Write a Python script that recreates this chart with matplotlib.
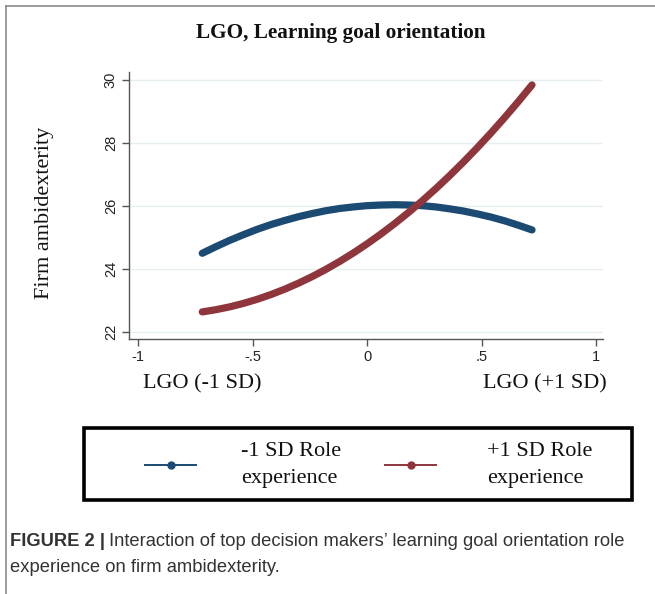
import matplotlib.pyplot as plt
from matplotlib.patches import Rectangle
from matplotlib.lines import Line2D

# values
lgo = [-0.72, -0.66, -0.6, -0.54, -0.48, -0.42, -0.36, -0.3, -0.24, -0.18, -0.12, -0.06, 0,
       0.06, 0.12, 0.18, 0.24, 0.3, 0.36, 0.42, 0.48, 0.54, 0.6, 0.66, 0.72]
low_role = [24.50, 24.71, 24.91, 25.09, 25.26, 25.41, 25.54, 25.66, 25.76, 25.85, 25.92, 25.97, 26.01,
            26.03, 26.04, 26.03, 26.01, 25.97, 25.91, 25.84, 25.75, 25.65, 25.53, 25.39, 25.24]
high_role = [22.64, 22.71, 22.80, 22.91, 23.04, 23.19, 23.36, 23.55, 23.76, 23.99, 24.24, 24.51, 24.80,
             25.11, 25.44, 25.79, 26.16, 26.55, 26.96, 27.39, 27.84, 28.31, 28.80, 29.31, 29.84]
series_names = ['-1 SD Role\nexperience', '+1 SD Role\nexperience']
xticks = [-1, -0.5, 0, 0.5, 1]
xtick_labels = ['-1', '-.5', '0', '.5', '1']
yticks = [22, 24, 26, 28, 30]

blue = '#1b4a73'
red = '#8f353c'
serif = ['Liberation Serif', 'DejaVu Serif']
sans = ['Liberation Sans', 'DejaVu Sans']

W, H = 655, 594
fig = plt.figure(figsize=(W / 100, H / 100), dpi=100)
fig.patch.set_facecolor('white')

ax = fig.add_axes([129 / W, 1 - 339 / H, (603 - 129) / W, (339 - 72) / H])
ax.plot(lgo, low_role, color=blue, lw=5.2, solid_capstyle='round', solid_joinstyle='round', zorder=3)
ax.plot(lgo, high_role, color=red, lw=5.2, solid_capstyle='round', solid_joinstyle='round', zorder=3)

ax.set_xlim(-1.04, 1.03)
ax.set_ylim(21.78, 30.25)
ax.set_xticks(xticks)
ax.set_xticklabels(xtick_labels, family=sans, fontsize=10.5)
ax.set_yticks(yticks)
ax.set_yticklabels([str(v) for v in yticks], family=sans, fontsize=10.5,
                   rotation=90, va='center')
ax.grid(axis='y', color='#e6f0f1', lw=1)
ax.set_axisbelow(True)
for s in ['top', 'right']:
    ax.spines[s].set_visible(False)
for s in ['left', 'bottom']:
    ax.spines[s].set_color('#555555')
    ax.spines[s].set_linewidth(1)
ax.tick_params(color='#555555', length=5, width=1, pad=3, labelcolor='#222222')

fig.text(341 / W, 1 - 33 / H, 'LGO, Learning goal orientation', ha='center', va='center',
         family=serif, fontsize=15.3, fontweight='bold', color='#111111')
fig.text(45 / W, 1 - 213 / H, 'Firm ambidexterity', ha='center', va='center',
         rotation=90, family=serif, fontsize=16, color='#111111')
fig.text(202 / W, 1 - 384 / H, 'LGO (-1 SD)', ha='center', va='center',
         family=serif, fontsize=16, color='#111111')
fig.text(545 / W, 1 - 384 / H, 'LGO (+1 SD)', ha='center', va='center',
         family=serif, fontsize=16, color='#111111')

# legend box
fig.add_artist(Rectangle((84 / W, 1 - 500 / H), (632 - 84) / W, (500 - 428) / H,
                         transform=fig.transFigure, fill=False, edgecolor='black', lw=2.6))
for color, name, x0, tx in [(blue, series_names[0], 145, 241), (red, series_names[1], 385, 487)]:
    fig.add_artist(Line2D([x0 / W, (x0 + 51) / W], [1 - 465 / H, 1 - 465 / H],
                          transform=fig.transFigure, color=color, lw=1.4))
    fig.add_artist(Line2D([(x0 + 25.5) / W], [1 - 465 / H], transform=fig.transFigure,
                          color=color, marker='o', markersize=5))
    fig.text(tx / W, 1 - 465 / H, name, ha='left', va='center', family=serif,
             fontsize=16, color='#111111', linespacing=1.55)

# outer frame lines
fig.add_artist(Line2D([6 / W, 1], [1 - 6 / H, 1 - 6 / H], transform=fig.transFigure,
                      color='#8a8a8a', lw=1.2))
fig.add_artist(Line2D([6 / W, 6 / W], [0, 1 - 6 / H], transform=fig.transFigure,
                      color='#8a8a8a', lw=1.2))

# caption
bold = fig.text(10 / W, 1 - 541 / H, 'FIGURE 2 |', ha='left', va='center', family=sans,
                fontsize=13.2, fontweight='bold', color='#333333')
fig.canvas.draw()
bx = bold.get_window_extent().x1
fig.text((bx + 4) / W, 1 - 541 / H,
         'Interaction of top decision makers\u2019 learning goal orientation role',
         ha='left', va='center', family=sans, fontsize=13.2, color='#333333')
fig.text(10 / W, 1 - 568 / H, 'experience on firm ambidexterity.', ha='left', va='center',
         family=sans, fontsize=13.2, color='#333333')

fig.savefig('out.png', dpi=100)
